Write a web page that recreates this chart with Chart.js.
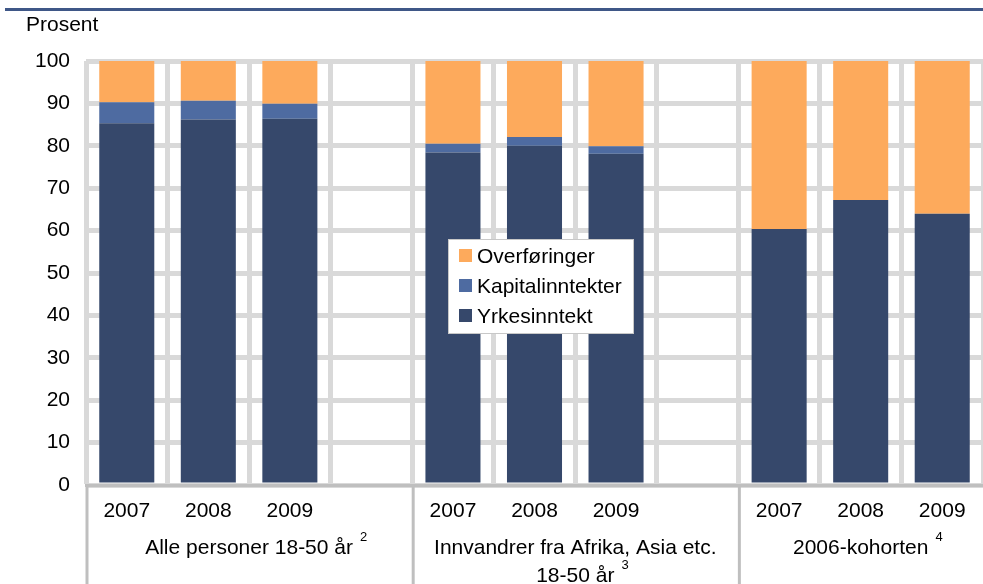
<!DOCTYPE html>
<html>
<head>
<meta charset="utf-8">
<script src="https://cdn.jsdelivr.net/npm/chart.js@4"></script>
<style>
  html, body { margin: 0; padding: 0; background: #fff; }
  #wrap { width: 983px; height: 584px; position: relative; }
</style>
</head>
<body>
<div id="wrap"><canvas id="chart"></canvas></div>
<script>
// chart data
const categories = ['2007', '2008', '2009', '', '2007', '2008', '2009', '', '2007', '2008', '2009'];
const yrkesinntekt = [85.3, 86.2, 86.4, null, 78.4, 80.0, 78.1, null, 60.4, 67.2, 64.0];
const kapitalinntekter = [5.0, 4.4, 3.5, null, 2.1, 2.1, 1.8, null, 0, 0, 0];
const overforinger = [9.7, 9.4, 10.1, null, 19.5, 17.9, 20.1, null, 39.6, 32.8, 36.0];
const groupLabels = [['Alle personer 18-50 år'], ['Innvandrer fra Afrika, Asia etc.', '18-50 år'], ['2006-kohorten']];
const groupNotes = ['2', '3', '4'];
const groupStart = [0, 4, 8];
const groupEnd = [3, 7, 10];

const FONT = '"Liberation Sans", Arial, sans-serif';
const SIZE = 21;
const colors = { yrke: '#36486b', kap: '#4e6ba1', over: '#fdaa5c' };

// top rule, unit label, group separators, group labels and legend
const decorations = {
    id: 'decorations',
    afterDraw(chart) {
        const ctx = chart.ctx;
        const x = chart.scales.x;
        const area = chart.chartArea;
        const step = x.getPixelForValue(1) - x.getPixelForValue(0);
        ctx.save();

        ctx.fillStyle = '#3f5787';
        ctx.fillRect(5, 8, 978, 3);

        ctx.fillStyle = '#000';
        ctx.font = SIZE + 'px ' + FONT;
        ctx.textBaseline = 'middle';
        ctx.textAlign = 'left';
        ctx.fillText('Prosent', 26, 25);

        // separators below axis
        ctx.strokeStyle = '#bfbfbf';
        ctx.lineWidth = 3;
        const seps = [x.getPixelForValue(0) - step / 2 + 1,
                      x.getPixelForValue(3) + step / 2 + 1,
                      x.getPixelForValue(7) + step / 2 + 1];
        seps.forEach(px => {
            ctx.beginPath();
            ctx.moveTo(px, area.bottom);
            ctx.lineTo(px, 584);
            ctx.stroke();
        });

        // group labels
        groupLabels.forEach((lines, g) => {
            const left = x.getPixelForValue(groupStart[g]) - step / 2;
            const right = g === 2 ? area.right : x.getPixelForValue(groupEnd[g]) + step / 2;
            const mid = (left + right) / 2;
            lines.forEach((line, i) => {
                const y = 548 + i * 28;
                ctx.font = SIZE + 'px ' + FONT;
                ctx.textAlign = 'center';
                ctx.fillStyle = '#000';
                ctx.fillText(line, mid, y);
                if (i === lines.length - 1) {
                    const w = ctx.measureText(line).width;
                    ctx.font = '13px ' + FONT;
                    ctx.textAlign = 'left';
                    ctx.fillText(groupNotes[g], mid + w / 2 + 7, y - 11);
                }
            });
        });

        // legend
        const lx = 448, ly = 239, lw = 185, lh = 94;
        ctx.fillStyle = '#fff';
        ctx.fillRect(lx, ly, lw, lh);
        ctx.strokeStyle = '#c8c8c8';
        ctx.lineWidth = 1;
        ctx.strokeRect(lx + 0.5, ly + 0.5, lw, lh);
        const items = chart.data.datasets.slice().reverse();
        items.forEach((ds, i) => {
            const cy = 256 + i * 30;
            ctx.fillStyle = ds.backgroundColor;
            ctx.fillRect(459, cy - 7, 13, 13);
            ctx.fillStyle = '#000';
            ctx.font = SIZE + 'px ' + FONT;
            ctx.textAlign = 'left';
            ctx.textBaseline = 'middle';
            ctx.fillText(ds.label, 477, cy + 1);
        });
        ctx.restore();
    }
};

new Chart(document.getElementById('chart'), {
    type: 'bar',
    data: {
        labels: categories,
        datasets: [
            { label: 'Yrkesinntekt', data: yrkesinntekt, backgroundColor: colors.yrke },
            { label: 'Kapitalinntekter', data: kapitalinntekter, backgroundColor: colors.kap },
            { label: 'Overføringer', data: overforinger, backgroundColor: colors.over }
        ]
    },
    options: {
        responsive: true,
        maintainAspectRatio: false,
        animation: false,
        layout: { padding: { top: 61, right: 0, left: 0, bottom: 0 } },
        datasets: { bar: { categoryPercentage: 1, barPercentage: 0.675 } },
        plugins: { legend: { display: false }, tooltip: { enabled: false } },
        scales: {
            x: {
                stacked: true,
                afterFit(s) { s.height = 99; },
                grid: { offset: true, color: '#d9d9d9', lineWidth: 5, drawTicks: false },
                border: { color: '#bfbfbf', width: 3 },
                ticks: { color: '#000', font: { family: FONT, size: SIZE }, padding: 14, autoSkip: false, maxRotation: 0 }
            },
            y: {
                stacked: true,
                min: 0,
                max: 100,
                afterFit(s) { s.width = 86; },
                grid: { color: '#d9d9d9', lineWidth: 5, drawTicks: false },
                border: { display: false },
                ticks: { stepSize: 10, color: '#000', font: { family: FONT, size: SIZE }, padding: 16 }
            }
        }
    },
    plugins: [decorations]
});
</script>
</body>
</html>
